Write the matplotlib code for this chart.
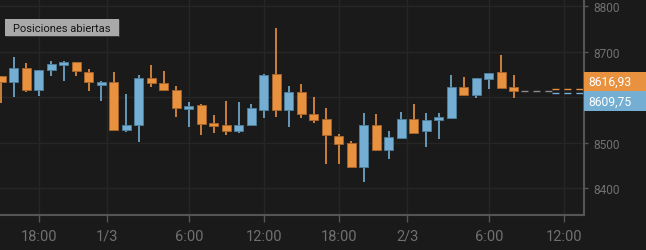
import matplotlib.pyplot as plt
from matplotlib.patches import Rectangle

# hourly candles
opens  = [8646, 8633, 8664, 8615, 8659, 8671, 8678, 8655, 8627, 8634, 8528, 8538,
          8643, 8632, 8615, 8574, 8582, 8543, 8538, 8525, 8538, 8571, 8651, 8571,
          8612, 8563, 8552, 8515, 8499, 8447, 8538, 8483, 8510, 8551, 8525, 8549,
          8555, 8622, 8604, 8640, 8656, 8623]
closes = [8633, 8664, 8615, 8659, 8672, 8678, 8657, 8633, 8634, 8528, 8538, 8642,
          8632, 8615, 8576, 8581, 8541, 8536, 8525, 8538, 8575, 8648, 8571, 8612,
          8563, 8549, 8516, 8497, 8447, 8538, 8483, 8513, 8551, 8522, 8549, 8556,
          8622, 8604, 8642, 8653, 8621, 8613]
highs  = [8646, 8688, 8675, 8660, 8680, 8679, 8678, 8662, 8636, 8655, 8608, 8649,
          8671, 8658, 8625, 8589, 8586, 8561, 8592, 8589, 8584, 8652, 8753, 8625,
          8630, 8600, 8575, 8519, 8504, 8564, 8562, 8526, 8567, 8584, 8564, 8564,
          8649, 8644, 8643, 8654, 8693, 8649]
lows   = [8587, 8600, 8611, 8603, 8647, 8636, 8647, 8614, 8592, 8528, 8523, 8501,
          8622, 8614, 8556, 8534, 8517, 8520, 8517, 8520, 8538, 8553, 8556, 8534,
          8553, 8542, 8452, 8452, 8446, 8414, 8481, 8463, 8509, 8520, 8491, 8507,
          8551, 8602, 8599, 8619, 8621, 8599]

sell_price = 8616.93
buy_price = 8609.75
sell_label = '8616,93'
buy_label = '8609,75'

tick_pos = [3, 8.5, 15, 21, 27, 32.5, 39, 45]
tick_labels = ['18:00', '1/3', '6:00', '12:00', '18:00', '2/3', '6:00', '12:00']
y_ticks = [8400, 8500, 8600, 8700, 8800]
y_tick_labels = ['8400', '8500', '', '8700', '8800']

bg = '#1a1a1a'
orange = '#e8923f'
blue = '#74afd3'
txt_gray = '#707070'

plt.rcParams['font.family'] = ['Roboto', 'DejaVu Sans']

fig = plt.figure(figsize=(6.46, 2.51), dpi=100, facecolor=bg)
ax = fig.add_axes([0, 1 - 216 / 251, 584 / 646, 216 / 251])
ax.set_facecolor(bg)

for i in range(len(opens)):
    o, c, h, l = opens[i], closes[i], highs[i], lows[i]
    col = blue if c >= o else orange
    edge = '#4f7f9c' if c >= o else '#a8662b'
    ax.vlines(i, l, h, color=col, lw=1.2, zorder=2)
    ax.add_patch(Rectangle((i - 0.36, min(o, c)), 0.72, max(abs(c - o), 1.2),
                           facecolor=col, edgecolor=edge, lw=0.6, zorder=3))

# current price lines
mid = (sell_price + buy_price) / 2
last = len(opens) - 1
ax.plot([last + 0.6, 44.06], [mid, mid], color='#8a8a8a', lw=1, dashes=(5, 3.6), zorder=2)
ax.plot([44.06, 46.7], [sell_price, sell_price], color=orange, lw=1, dashes=(5, 3.6), zorder=2)
ax.plot([44.06, 46.7], [buy_price, buy_price], color=blue, lw=1, dashes=(5, 3.6), zorder=2)

ax.set_xlim(-0.096, 46.62)
ax.set_ylim(8340.4, 8816.2)

ax.set_xticks(tick_pos)
ax.set_xticklabels(tick_labels)
ax.set_yticks(y_ticks)
ax.set_yticklabels(y_tick_labels)
ax.yaxis.tick_right()
ax.tick_params(axis='x', colors='#555555', length=5, width=1, labelcolor=txt_gray,
               labelsize=10.5, pad=5)
ax.tick_params(axis='y', colors='#555555', length=3, width=1, labelcolor=txt_gray,
               labelsize=8.6, pad=4)

ax.grid(True, color='#262626', lw=1)
ax.set_axisbelow(True)
for s in ['top', 'left']:
    ax.spines[s].set_visible(False)
for s in ['right', 'bottom']:
    ax.spines[s].set_color('#555555')
    ax.spines[s].set_linewidth(1.5)

# price label boxes on the right
W, H = 646, 251
fig.patches.append(Rectangle((584 / W, 1 - 92 / H), 62 / W, 18.7 / H,
                             transform=fig.transFigure, facecolor=orange,
                             edgecolor='none', zorder=5))
fig.patches.append(Rectangle((584 / W, 1 - 112 / H), 62 / W, 20 / H,
                             transform=fig.transFigure, facecolor=blue,
                             edgecolor='none', zorder=5))
fig.text(588 / W, 1 - 82.7 / H, sell_label, color='white', fontsize=8.7,
         va='center', ha='left', zorder=6)
fig.text(588 / W, 1 - 102 / H, buy_label, color='white', fontsize=8.7,
         va='center', ha='left', zorder=6)

# button
fig.patches.append(Rectangle((6 / W, 1 - 38 / H), 114 / W, 17 / H,
                             transform=fig.transFigure, facecolor='#3a3a3a',
                             edgecolor='none', zorder=5))
fig.patches.append(Rectangle((5 / W, 1 - 37 / H), 114 / W, 17 / H,
                             transform=fig.transFigure, facecolor='#a9a9a9',
                             edgecolor='none', zorder=6))
fig.text(62 / W, 1 - 28.5 / H, 'Posiciones abiertas', color='#151515', fontsize=8,
         ha='center', va='center', zorder=7)

fig.savefig('out.png', dpi=100, facecolor=bg)
